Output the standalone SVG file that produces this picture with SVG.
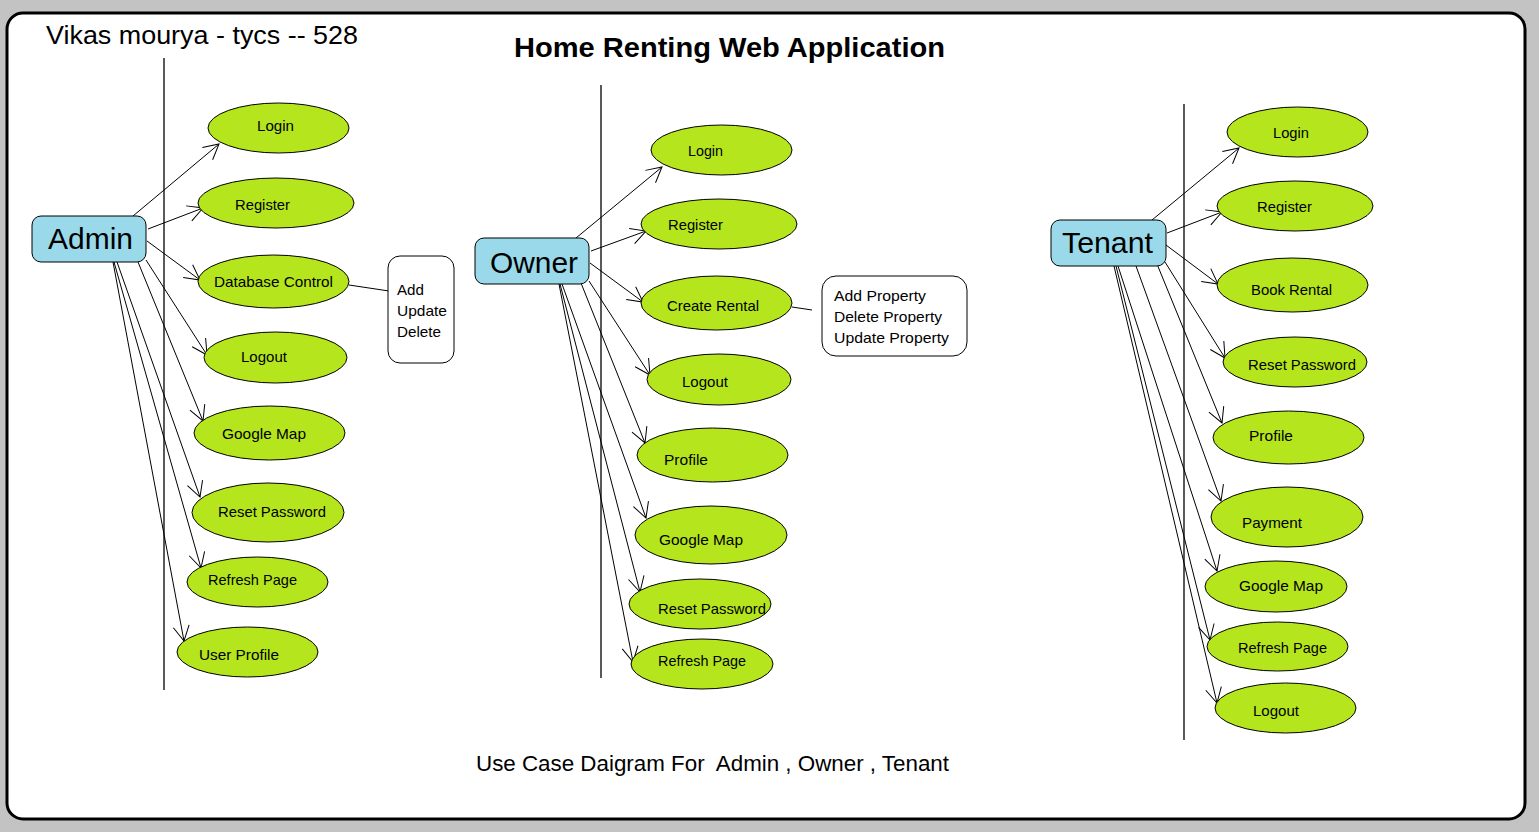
<svg xmlns="http://www.w3.org/2000/svg" width="1539" height="832" viewBox="0 0 1539 832">
<defs>
<style>
.uc{fill:#b5e61d;stroke:#000;stroke-width:1}
.actor{fill:#99d9ea;stroke:#000;stroke-width:1}
.note{fill:#fff;stroke:#000;stroke-width:1}
.t{font-family:"Liberation Sans",Arial,sans-serif;font-size:15px;fill:#000}
.at{font-family:"Liberation Sans",Arial,sans-serif;font-size:29px;fill:#000}
.c line{stroke:#000;stroke-width:1}
.life{stroke:#000;stroke-width:1.3}
</style>
<marker id="ah" viewBox="0 0 16 16" refX="16" refY="8" markerWidth="16" markerHeight="16" markerUnits="userSpaceOnUse" orient="auto" overflow="visible">
<path d="M1,0 L16,8 L1,16" fill="none" stroke="#000" stroke-width="1"/>
</marker>
</defs>
<rect x="0" y="0" width="1539" height="832" fill="#c3c3c3"/>
<rect x="7" y="13" width="1518" height="806" rx="16" fill="#fff" stroke="#000" stroke-width="3"/>
<text class="t" x="46" y="44" style="font-size:25px" textLength="312" lengthAdjust="spacingAndGlyphs">Vikas mourya - tycs -- 528</text>
<text class="t" x="514" y="57" style="font-size:28px;font-weight:bold" textLength="431" lengthAdjust="spacingAndGlyphs">Home Renting Web Application</text>
<text class="t" x="476" y="771" style="font-size:22px;white-space:pre" xml:space="preserve" textLength="473" lengthAdjust="spacingAndGlyphs">Use Case Daigram For  Admin , Owner , Tenant</text>

<g id="lifelines">
<line class="life" x1="164" y1="58" x2="164" y2="690"/>
<line class="life" x1="601" y1="85" x2="601" y2="678"/>
<line class="life" x1="1184" y1="104" x2="1184" y2="740"/>
</g>

<g id="connectors" class="c">
<line x1="133" y1="216" x2="219" y2="144" marker-end="url(#ah)"/>
<line x1="148" y1="229" x2="203" y2="208" marker-end="url(#ah)"/>
<line x1="147" y1="241" x2="200" y2="280" marker-end="url(#ah)"/>
<line x1="146" y1="260" x2="207" y2="355" marker-end="url(#ah)"/>
<line x1="138" y1="262" x2="203" y2="421" marker-end="url(#ah)"/>
<line x1="117" y1="262" x2="200" y2="497" marker-end="url(#ah)"/>
<line x1="114" y1="262" x2="201" y2="568" marker-end="url(#ah)"/>
<line x1="113" y1="262" x2="184" y2="641" marker-end="url(#ah)"/>
<line x1="349" y1="285" x2="389" y2="291"/>

<line x1="576" y1="238" x2="662" y2="167" marker-end="url(#ah)"/>
<line x1="591" y1="251" x2="646" y2="231" marker-end="url(#ah)"/>
<line x1="590" y1="263" x2="643" y2="302" marker-end="url(#ah)"/>
<line x1="589" y1="281" x2="650" y2="375" marker-end="url(#ah)"/>
<line x1="581" y1="283" x2="645" y2="443" marker-end="url(#ah)"/>
<line x1="562" y1="284" x2="646" y2="518" marker-end="url(#ah)"/>
<line x1="560" y1="284" x2="640" y2="592" marker-end="url(#ah)"/>
<line x1="559" y1="284" x2="633" y2="662" marker-end="url(#ah)"/>
<line x1="792" y1="307" x2="812" y2="310"/>

<line x1="1152" y1="220" x2="1239" y2="148" marker-end="url(#ah)"/>
<line x1="1167" y1="233" x2="1222" y2="212" marker-end="url(#ah)"/>
<line x1="1166" y1="245" x2="1218" y2="284" marker-end="url(#ah)"/>
<line x1="1165" y1="262" x2="1225" y2="358" marker-end="url(#ah)"/>
<line x1="1157" y1="264" x2="1222" y2="423" marker-end="url(#ah)"/>
<line x1="1136" y1="266" x2="1221" y2="501" marker-end="url(#ah)"/>
<line x1="1118" y1="266" x2="1217" y2="571" marker-end="url(#ah)"/>
<line x1="1116" y1="266" x2="1210" y2="640" marker-end="url(#ah)"/>
<line x1="1114" y1="266" x2="1217" y2="703" marker-end="url(#ah)"/>
</g>

<g id="admin"><rect class="actor" x="32" y="216" width="114" height="46" rx="9"/><text class="at" x="48" y="249" textLength="85" lengthAdjust="spacingAndGlyphs">Admin</text></g>
<g id="owner"><rect class="actor" x="475" y="238" width="114" height="46" rx="9"/><text class="at" x="490" y="273" textLength="88" lengthAdjust="spacingAndGlyphs">Owner</text></g>
<g id="tenant"><rect class="actor" x="1051" y="220" width="115" height="46" rx="9"/><text class="at" x="1062" y="253" textLength="91" lengthAdjust="spacingAndGlyphs">Tenant</text></g>

<g id="admin-login"><ellipse class="uc" cx="278.5" cy="128" rx="70.5" ry="25"/><text class="t" x="257" y="131" textLength="37" lengthAdjust="spacingAndGlyphs">Login</text></g>
<g id="admin-register"><ellipse class="uc" cx="276" cy="203" rx="78" ry="25"/><text class="t" x="235" y="210" textLength="55" lengthAdjust="spacingAndGlyphs">Register</text></g>
<g id="admin-db"><ellipse class="uc" cx="273.5" cy="281.5" rx="75.5" ry="26.5"/><text class="t" x="214" y="287" textLength="119" lengthAdjust="spacingAndGlyphs">Database Control</text></g>
<g id="admin-logout"><ellipse class="uc" cx="275.5" cy="357.5" rx="71.5" ry="25.5"/><text class="t" x="241" y="362" textLength="46" lengthAdjust="spacingAndGlyphs">Logout</text></g>
<g id="admin-map"><ellipse class="uc" cx="269.5" cy="433" rx="75.5" ry="27"/><text class="t" x="222" y="439" textLength="84" lengthAdjust="spacingAndGlyphs">Google Map</text></g>
<g id="admin-reset"><ellipse class="uc" cx="268" cy="512.5" rx="76" ry="29.5"/><text class="t" x="218" y="517" textLength="108" lengthAdjust="spacingAndGlyphs">Reset Password</text></g>
<g id="admin-refresh"><ellipse class="uc" cx="257.5" cy="582" rx="70.5" ry="25"/><text class="t" x="208" y="585" textLength="89" lengthAdjust="spacingAndGlyphs">Refresh Page</text></g>
<g id="admin-profile"><ellipse class="uc" cx="247.5" cy="652" rx="70.5" ry="25"/><text class="t" x="199" y="660" textLength="80" lengthAdjust="spacingAndGlyphs">User Profile</text></g>
<g id="admin-note"><rect class="note" x="388" y="256" width="66" height="107" rx="12"/><text class="t" x="397" y="295" textLength="27" lengthAdjust="spacingAndGlyphs">Add</text><text class="t" x="397" y="316" textLength="50" lengthAdjust="spacingAndGlyphs">Update</text><text class="t" x="397" y="337" textLength="44" lengthAdjust="spacingAndGlyphs">Delete</text></g>

<g id="owner-login"><ellipse class="uc" cx="721.5" cy="150" rx="70.5" ry="25"/><text class="t" x="688" y="156" textLength="35" lengthAdjust="spacingAndGlyphs">Login</text></g>
<g id="owner-register"><ellipse class="uc" cx="719" cy="224" rx="78" ry="25"/><text class="t" x="668" y="230" textLength="55" lengthAdjust="spacingAndGlyphs">Register</text></g>
<g id="owner-create"><ellipse class="uc" cx="716.5" cy="303" rx="75.5" ry="27"/><text class="t" x="667" y="311" textLength="92" lengthAdjust="spacingAndGlyphs">Create Rental</text></g>
<g id="owner-logout"><ellipse class="uc" cx="719" cy="379.5" rx="72" ry="25.5"/><text class="t" x="682" y="387" textLength="46" lengthAdjust="spacingAndGlyphs">Logout</text></g>
<g id="owner-profile"><ellipse class="uc" cx="712.5" cy="455" rx="75.5" ry="27"/><text class="t" x="664" y="465" textLength="44" lengthAdjust="spacingAndGlyphs">Profile</text></g>
<g id="owner-map"><ellipse class="uc" cx="711" cy="535" rx="76" ry="29"/><text class="t" x="659" y="545" textLength="84" lengthAdjust="spacingAndGlyphs">Google Map</text></g>
<g id="owner-reset"><ellipse class="uc" cx="700" cy="604" rx="71" ry="25"/><text class="t" x="658" y="614" textLength="108" lengthAdjust="spacingAndGlyphs">Reset Password</text></g>
<g id="owner-refresh"><ellipse class="uc" cx="702" cy="664" rx="71" ry="25"/><text class="t" x="658" y="666" textLength="88" lengthAdjust="spacingAndGlyphs">Refresh Page</text></g>
<g id="owner-note"><rect class="note" x="822" y="276" width="145" height="80" rx="14"/><text class="t" x="834" y="301" textLength="92" lengthAdjust="spacingAndGlyphs">Add Property</text><text class="t" x="834" y="322" textLength="108" lengthAdjust="spacingAndGlyphs">Delete Property</text><text class="t" x="834" y="343" textLength="115" lengthAdjust="spacingAndGlyphs">Update Property</text></g>

<g id="tenant-login"><ellipse class="uc" cx="1297.5" cy="132" rx="70.5" ry="25"/><text class="t" x="1273" y="138" textLength="36" lengthAdjust="spacingAndGlyphs">Login</text></g>
<g id="tenant-register"><ellipse class="uc" cx="1295" cy="206" rx="78" ry="25"/><text class="t" x="1257" y="212" textLength="55" lengthAdjust="spacingAndGlyphs">Register</text></g>
<g id="tenant-book"><ellipse class="uc" cx="1292.5" cy="285" rx="75.5" ry="27"/><text class="t" x="1251" y="295" textLength="81" lengthAdjust="spacingAndGlyphs">Book Rental</text></g>
<g id="tenant-reset"><ellipse class="uc" cx="1295" cy="362" rx="72" ry="25"/><text class="t" x="1248" y="370" textLength="108" lengthAdjust="spacingAndGlyphs">Reset Password</text></g>
<g id="tenant-profile"><ellipse class="uc" cx="1288.5" cy="437.5" rx="75.5" ry="26.5"/><text class="t" x="1249" y="441" textLength="44" lengthAdjust="spacingAndGlyphs">Profile</text></g>
<g id="tenant-payment"><ellipse class="uc" cx="1287" cy="517" rx="76" ry="30"/><text class="t" x="1242" y="528" textLength="60" lengthAdjust="spacingAndGlyphs">Payment</text></g>
<g id="tenant-map"><ellipse class="uc" cx="1276" cy="586.5" rx="71" ry="25.5"/><text class="t" x="1239" y="591" textLength="84" lengthAdjust="spacingAndGlyphs">Google Map</text></g>
<g id="tenant-refresh"><ellipse class="uc" cx="1277.5" cy="646.5" rx="70.5" ry="24.5"/><text class="t" x="1238" y="653" textLength="89" lengthAdjust="spacingAndGlyphs">Refresh Page</text></g>
<g id="tenant-logout"><ellipse class="uc" cx="1285.5" cy="708" rx="70.5" ry="25"/><text class="t" x="1253" y="716" textLength="46" lengthAdjust="spacingAndGlyphs">Logout</text></g>
</svg>
